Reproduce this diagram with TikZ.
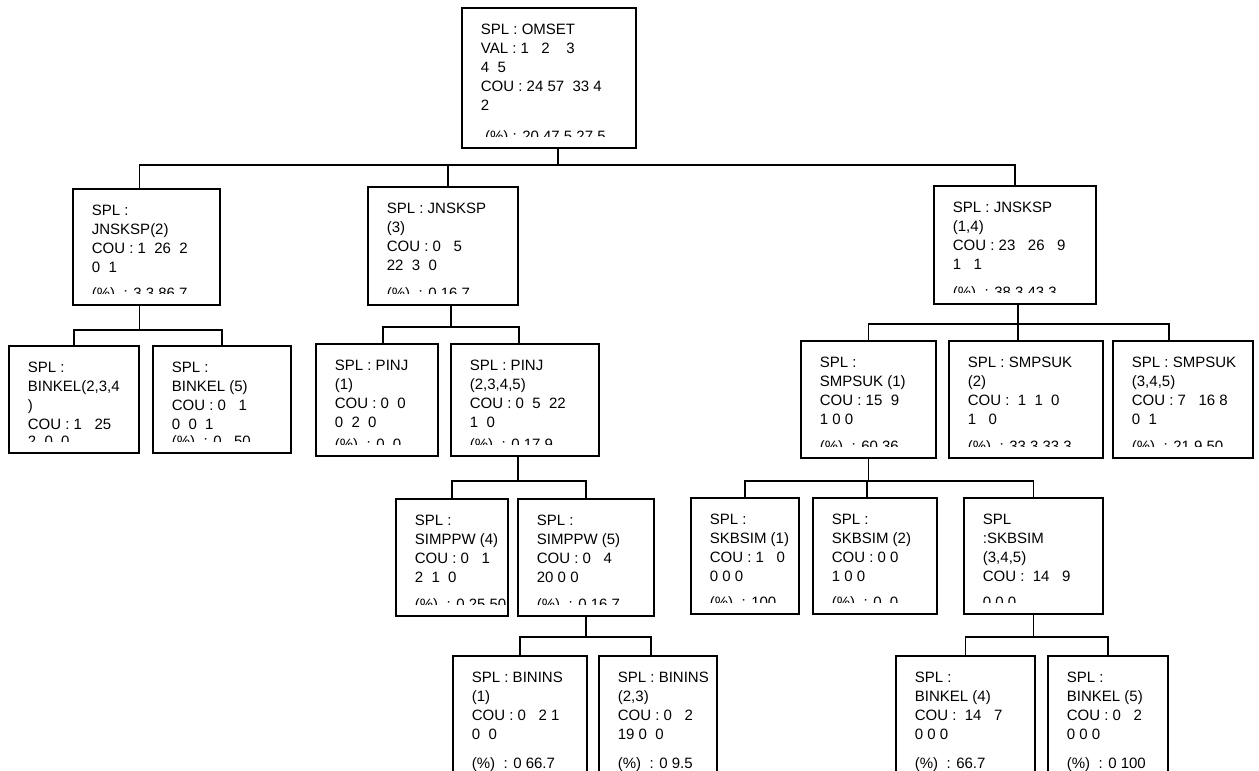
\documentclass[tikz,border=0pt]{standalone}
\usepackage{fontspec}
\setmainfont{Liberation Sans}
\usetikzlibrary{positioning}

\begin{document}
\begin{tikzpicture}[
  x=1pt, y=-1pt,
  cell/.style n args={3}{draw, line width=1.8pt, anchor=north west, inner sep=0pt,
    minimum width=#1pt, minimum height=#2pt,
    path picture={
      \clip ([shift={(2pt,-2pt)}]path picture bounding box.north west)
        rectangle ([shift={(-2pt,11pt)}]path picture bounding box.south east);
      \node[celltext] at ([shift={(19pt,-16pt)}]path picture bounding box.north west) {#3};
    }},
  celltext/.style={draw=none, anchor=north west, inner sep=0pt, outer sep=0pt,
    minimum width=0pt, minimum height=0pt, align=left,
    font=\fontsize{15}{19}\selectfont},
  link/.style={line width=1.6pt}
]
  \useasboundingbox (0,0) rectangle (1259,771);

  % root
  \node[cell={174}{140}{SPL~: OMSET\\VAL~: 1~~~2~~~~3\\4~~5\\COU~: 24 57~~33 4\\2\\[12pt]~(\%)~: 20 47.5 27.5}] (omset) at (461,7) {};

  % level 1
  \node[cell={147}{116}{SPL~:\\JNSKSP(2)\\COU~: 1~~26~~2\\0~~1\\[7pt](\%)~~: 3.3 86.7}] (jnskspA) at (72,188) {};
  \node[cell={150}{118}{SPL~: JNSKSP\\(3)\\COU~: 0~~~5\\22~~3~~0\\[9pt](\%)~~: 0 16.7}] (jnskspB) at (367,186) {};
  \node[cell={162}{118}{SPL~: JNSKSP\\(1,4)\\COU~: 23~~~26~~~9\\1~~~1\\[9pt](\%)~~: 38.3 43.3}] (jnskspC) at (933,185) {};

  % level 2
  \node[cell={130}{107}{SPL~:\\BINKEL(2,3,4\\)\\COU~: 1~~~25\\[-2pt]2~~0~~0}] (binkelA) at (8,345) {};
  \node[cell={138}{107}{SPL~:\\BINKEL (5)\\COU~: 0~~~1\\0~~0~~1\\[-2pt](\%)~~: 0~~~50}] (binkelB) at (152,345) {};
  \node[cell={122}{112}{SPL~: PINJ\\(1)\\COU~: 0~~0\\0~~2~~0\\[3pt](\%)~~: 0~~0}] (pinjA) at (315,343) {};
  \node[cell={148}{112}{SPL~: PINJ\\(2,3,4,5)\\COU~: 0~~5~~22\\1~~0\\[3pt](\%)~~: 0 17.9}] (pinjB) at (450,343) {};
  \node[cell={135}{117}{SPL~:\\SMPSUK (1)\\COU~: 15~~9\\1~0~0\\[8pt](\%)~~: 60 36}] (smpsukA) at (800,340) {};
  \node[cell={154}{117}{SPL~: SMPSUK\\(2)\\COU~:~~1~~1~~0\\1~~~0\\[8pt](\%)~~: 33.3 33.3}] (smpsukB) at (948,340) {};
  \node[cell={140}{117}{SPL~: SMPSUK\\(3,4,5)\\COU~: 7~~~16 8\\0~~1\\[8pt](\%)~~: 21.9 50}] (smpsukC) at (1112,340) {};

  % level 3
  \node[cell={112}{117}{SPL~:\\SIMPPW (4)\\COU~: 0~~~1\\2~~1~~0\\[8pt](\%)~~: 0 25 50}] (simppwA) at (395,498) {};
  \node[cell={136}{117}{SPL~:\\SIMPPW (5)\\COU~: 0~~~4\\20 0 0\\[8pt](\%)~~: 0 16.7}] (simppwB) at (517,498) {};
  \node[cell={108}{116}{SPL~:\\SKBSIM (1)\\COU~: 1~~~0\\0 0 0\\[7pt](\%)~~: 100}] (skbsimA) at (690,497) {};
  \node[cell={124}{116}{SPL~:\\SKBSIM (2)\\COU~: 0 0\\1 0 0\\[7pt](\%)~~: 0~~0}] (skbsimB) at (812,497) {};
  \node[cell={139}{116}{SPL\\:SKBSIM\\(3,4,5)\\COU~:~~14~~~9\\[7pt]0 0 0}] (skbsimC) at (963,497) {};

  % level 4
  \node[cell={134}{130}{SPL~: BININS\\(1)\\COU~: 0~~~2 1\\0~~0\\[10pt](\%)~~: 0 66.7}] (bininsA) at (452,655) {};
  \node[cell={118}{130}{SPL~: BININS\\(2,3)\\COU~: 0~~~2\\19 0~~0\\[10pt](\%)~~: 0 9.5}] (bininsB) at (598,655) {};
  \node[cell={139}{130}{SPL~:\\BINKEL (4)\\COU~:~~14~~~7\\0 0 0\\[10pt](\%)~~: 66.7}] (binkelC) at (895,655) {};
  \node[cell={120}{130}{SPL~:\\BINKEL (5)\\COU~: 0~~~2\\0 0 0\\[10pt](\%)~~: 0 100}] (binkelD) at (1047,655) {};

  % connectors
  \draw[link] ([xshift=9]omset.south) -- ++(0,16) coordinate (busA);
  \draw[link] (busA) -| ([xshift=-7]jnskspA.north);
  \draw[link] (busA) -| ([xshift=5]jnskspB.north);
  \draw[link] (busA) -| (jnskspC.north);

  \draw[link] ([xshift=-7]jnskspA.south) -- ++(0,24) coordinate (busB);
  \draw[link] (busB) -| (binkelA.north);
  \draw[link] (busB) -| (binkelB.north);

  \draw[link] ([xshift=8]jnskspB.south) -- ++(0,21) coordinate (busC);
  \draw[link] (busC) -| ([xshift=6]pinjA.north);
  \draw[link] (busC) -| ([xshift=-6]pinjB.north);

  \draw[link] ([xshift=3]jnskspC.south) -- ++(0,19) coordinate (busD);
  \draw[link] (busD) -| (smpsukA.north);
  \draw[link] (busD) -| ([xshift=-8]smpsukB.north);
  \draw[link] (busD) -| ([xshift=-14]smpsukC.north);

  \draw[link] ([xshift=-7]pinjB.south) -- ++(0,24) coordinate (busE);
  \draw[link] (busE) -| (simppwA.north);
  \draw[link] (busE) -| (simppwB.north);

  \draw[link] (smpsukA.south) -- ++(0,22) coordinate (busF);
  \draw[link] (busF) -| (skbsimA.north);
  \draw[link] (busF) -| ([xshift=-8]skbsimB.north);
  \draw[link] (busF) -| (skbsimC.north);

  \draw[link] (simppwB.south) -- ++(0,20) coordinate (busG);
  \draw[link] (busG) -| (bininsA.north);
  \draw[link] (busG) -| ([xshift=-7]bininsB.north);

  \draw[link] (skbsimC.south) -- ++(0,22) coordinate (busH);
  \draw[link] (busH) -| (binkelC.north);
  \draw[link] (busH) -| (binkelD.north);
\end{tikzpicture}
\end{document}
